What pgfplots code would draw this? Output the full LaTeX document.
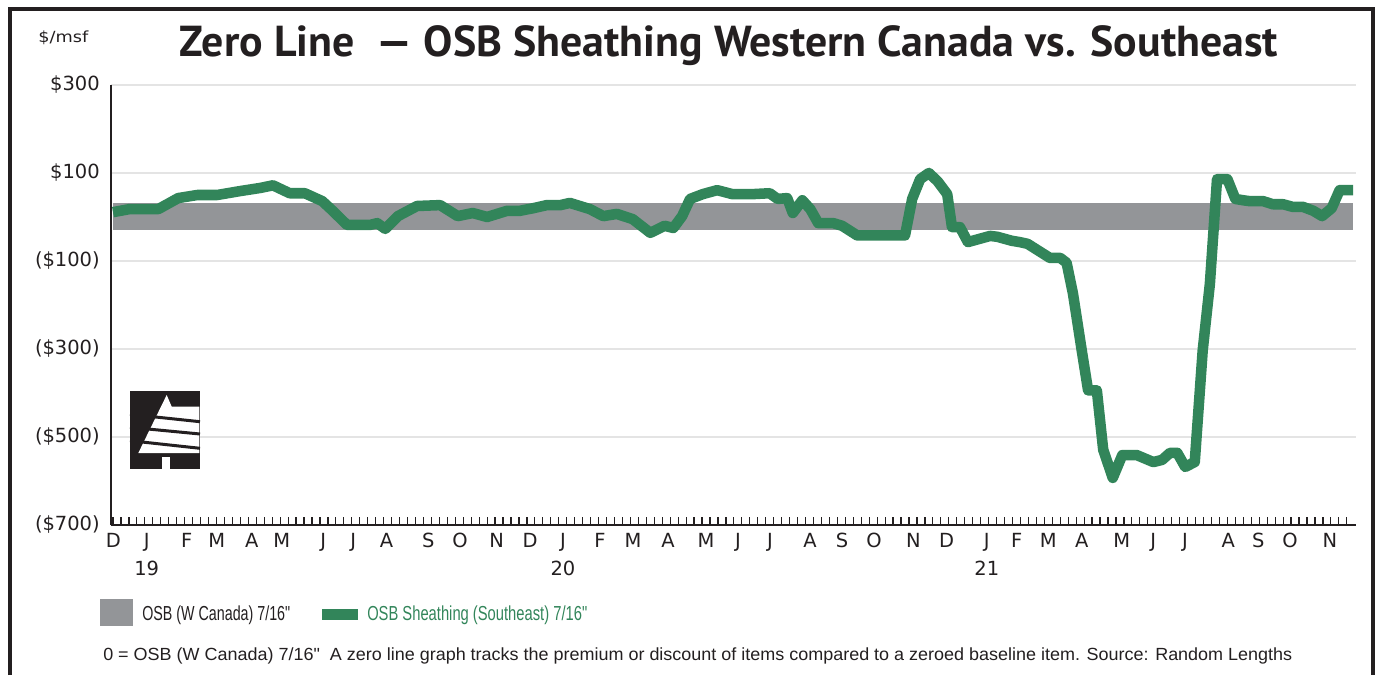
\documentclass[border=0pt]{standalone}
\usepackage{pgfplots}
\pgfplotsset{compat=1.18}
\usepackage{graphicx}
\usepackage{fontspec}
\setmainfont{DejaVu Sans}
\newfontfamily\lib{Liberation Sans}
\newfontfamily\ptsans{PT Sans}
\definecolor{sgreen}{RGB}{50,133,90}
\definecolor{bandgray}{RGB}{147,149,152}
\definecolor{gridgray}{RGB}{228,228,228}
\definecolor{txt}{RGB}{35,31,32}
\begin{document}
\begin{tikzpicture}
\useasboundingbox (0,0) rectangle (1032pt,506.25pt);
\begin{axis}[
  at={(83.25pt,112.5pt)}, anchor=south west,
  scale only axis, width=933.75pt, height=330pt,
  xmin=-0.25, xmax=156.16, ymin=-700, ymax=300,
  axis x line*=bottom, axis y line*=left,
  axis line style={line width=1.5pt, txt, -},
  xtick={0,1,...,155}, xticklabels={},
  xtick align=inside, ytick align=inside,
  major tick length=6pt,
  xtick style={line width=0.9pt, txt},
  ytick={-700,-500,-300,-100,100,300},
  yticklabels={(\$700),(\$500),(\$300),(\$100),\$100,\$300},
  ytick style={draw=none},
  ymajorgrids, grid style={line width=1.5pt, gridgray},
  tick label style={font=\fontsize{14.6}{21}\selectfont, text=txt},
  yticklabel style={inner sep=0pt, xshift=-8.25pt},
  extra x ticks={0.04,4.23,9.26,13.03,17.43,21.19,26.42,30.19,34.38,39.61,43.59,48.2,52.39,56.53,61.18,65.33,69.72,74.5,78.52,82.54,87.56,91.58,95.6,100.55,104.74,109.77,113.53,117.5,121.7,126.72,130.69,134.67,140.11,143.88,147.86,152.89},
  extra x tick labels={D,{J\\19},F,M,A,M,J,J,A,S,O,N,D,{J\\20},F,M,A,M,J,J,A,S,O,N,D,{J\\21},F,M,A,M,J,J,A,S,O,N},
  extra x tick style={major tick length=0pt, grid=none, xticklabel style={anchor=north, inner sep=0pt, yshift=-6pt, align=center}},
  clip=false,
]
\addplot[fill=bandgray, draw=none, forget plot] coordinates {(0,-29) (155.8,-29) (155.8,32) (0,32)} --cycle;
\addplot[sgreen, line width=7.9pt, line join=round] coordinates {
(0,11) (2.1,18) (5.7,18) (8.2,43) (10.6,50) (13.1,50) (16.0,59) (18.5,66) (20.1,72)
(22.2,54) (24.1,54) (26.3,36) (27.6,14) (29.4,-18) (32.3,-18) (33.2,-14) (34.2,-27)
(35.8,2) (38.2,25) (41.1,27) (43.3,2) (45.2,9) (47.0,0) (49.5,14) (51.1,14) (52.8,20)
(54.5,27) (56.2,27) (57.4,32) (59.9,18) (61.6,2) (63.3,7) (65.3,-5) (67.5,-36)
(69.3,-20) (70.4,-25) (71.5,2) (72.5,41) (74.1,52) (75.9,61) (77.8,52) (80.4,52)
(82.5,54) (83.5,41) (84.7,43) (85.4,9) (86.6,38) (87.6,18) (88.6,-14) (90.5,-14)
(91.6,-20) (93.5,-42) (99.5,-42) (100.4,41) (101.4,86) (102.5,100) (103.6,81)
(104.8,52) (105.4,-23) (106.4,-23) (107.4,-57) (110.2,-43) (111.1,-45) (112.9,-54)
(113.9,-57) (114.9,-61) (117.7,-93) (119.0,-93) (119.8,-104) (120.6,-174) (121.7,-303)
(122.5,-394) (123.6,-394) (124.4,-529) (125.6,-593) (126.8,-541) (128.6,-541)
(130.7,-557) (131.8,-552) (132.8,-536) (133.7,-536) (134.7,-568) (135.9,-557)
(136.9,-303) (137.8,-152) (138.7,86) (140.0,86) (141.0,41) (142.0,38) (142.8,36)
(144.5,36) (145.7,29) (147.0,29) (148.2,23) (149.5,23) (150.8,14) (151.9,2)
(153.1,20) (154.1,61) (155.8,61)
};
\end{axis}
\begin{scope}[x=0.75pt,y=0.75pt]
% frame
\draw[line width=2.6pt, txt] (10,0) -- (10,666) -- (1373,666) -- (1373,0);
% title
\node[anchor=base, inner sep=0pt, text=txt] at (729,618) {\resizebox{823.5pt}{\height}{\ptsans\bfseries\fontsize{32.5}{33}\selectfont Zero Line\ \ — OSB Sheathing Western Canada vs. Southeast}};
\node[anchor=base west, inner sep=0pt, text=txt] at (38,632) {\resizebox{37.5pt}{\height}{\fontsize{11.5}{12}\selectfont \$/msf}};
% logo
\fill[txt] (130,206) rectangle (200,284);
\fill[white] (166.7,280) -- (171.7,268.3) -- (199.3,268.3) -- (199.3,222) -- (138.3,222) -- cycle;
\draw[txt, line width=2.25pt] (130,260.7) -- (200,253.3);
\draw[txt, line width=2.25pt] (130,247.7) -- (200,241);
\draw[txt, line width=2.25pt] (130,234.3) -- (200,226.7);
\fill[white] (161.7,206) rectangle (170,217.7);
% legend
\fill[bandgray] (100,49) rectangle (133,76);
\node[anchor=base west, inner sep=0pt, text=txt] at (142,55) {\resizebox{111pt}{\height}{\lib\fontsize{15.2}{16}\selectfont OSB (W Canada) 7/16"}};
\fill[sgreen] (322,55) rectangle (358,66);
\node[anchor=base west, inner sep=0pt, text=sgreen] at (367,55) {\resizebox{165pt}{\height}{\lib\fontsize{15.2}{16}\selectfont OSB Sheathing (Southeast) 7/16"}};
\node[anchor=base west, inner sep=0pt, text=txt] at (103,15) {\resizebox{891.75pt}{\height}{\lib\fontsize{13.2}{14}\selectfont 0 = OSB (W Canada) 7/16"\ \ A zero line graph tracks the premium or discount of items compared to a zeroed baseline item. Source: Random Lengths}};
\end{scope}
\end{tikzpicture}
\end{document}
